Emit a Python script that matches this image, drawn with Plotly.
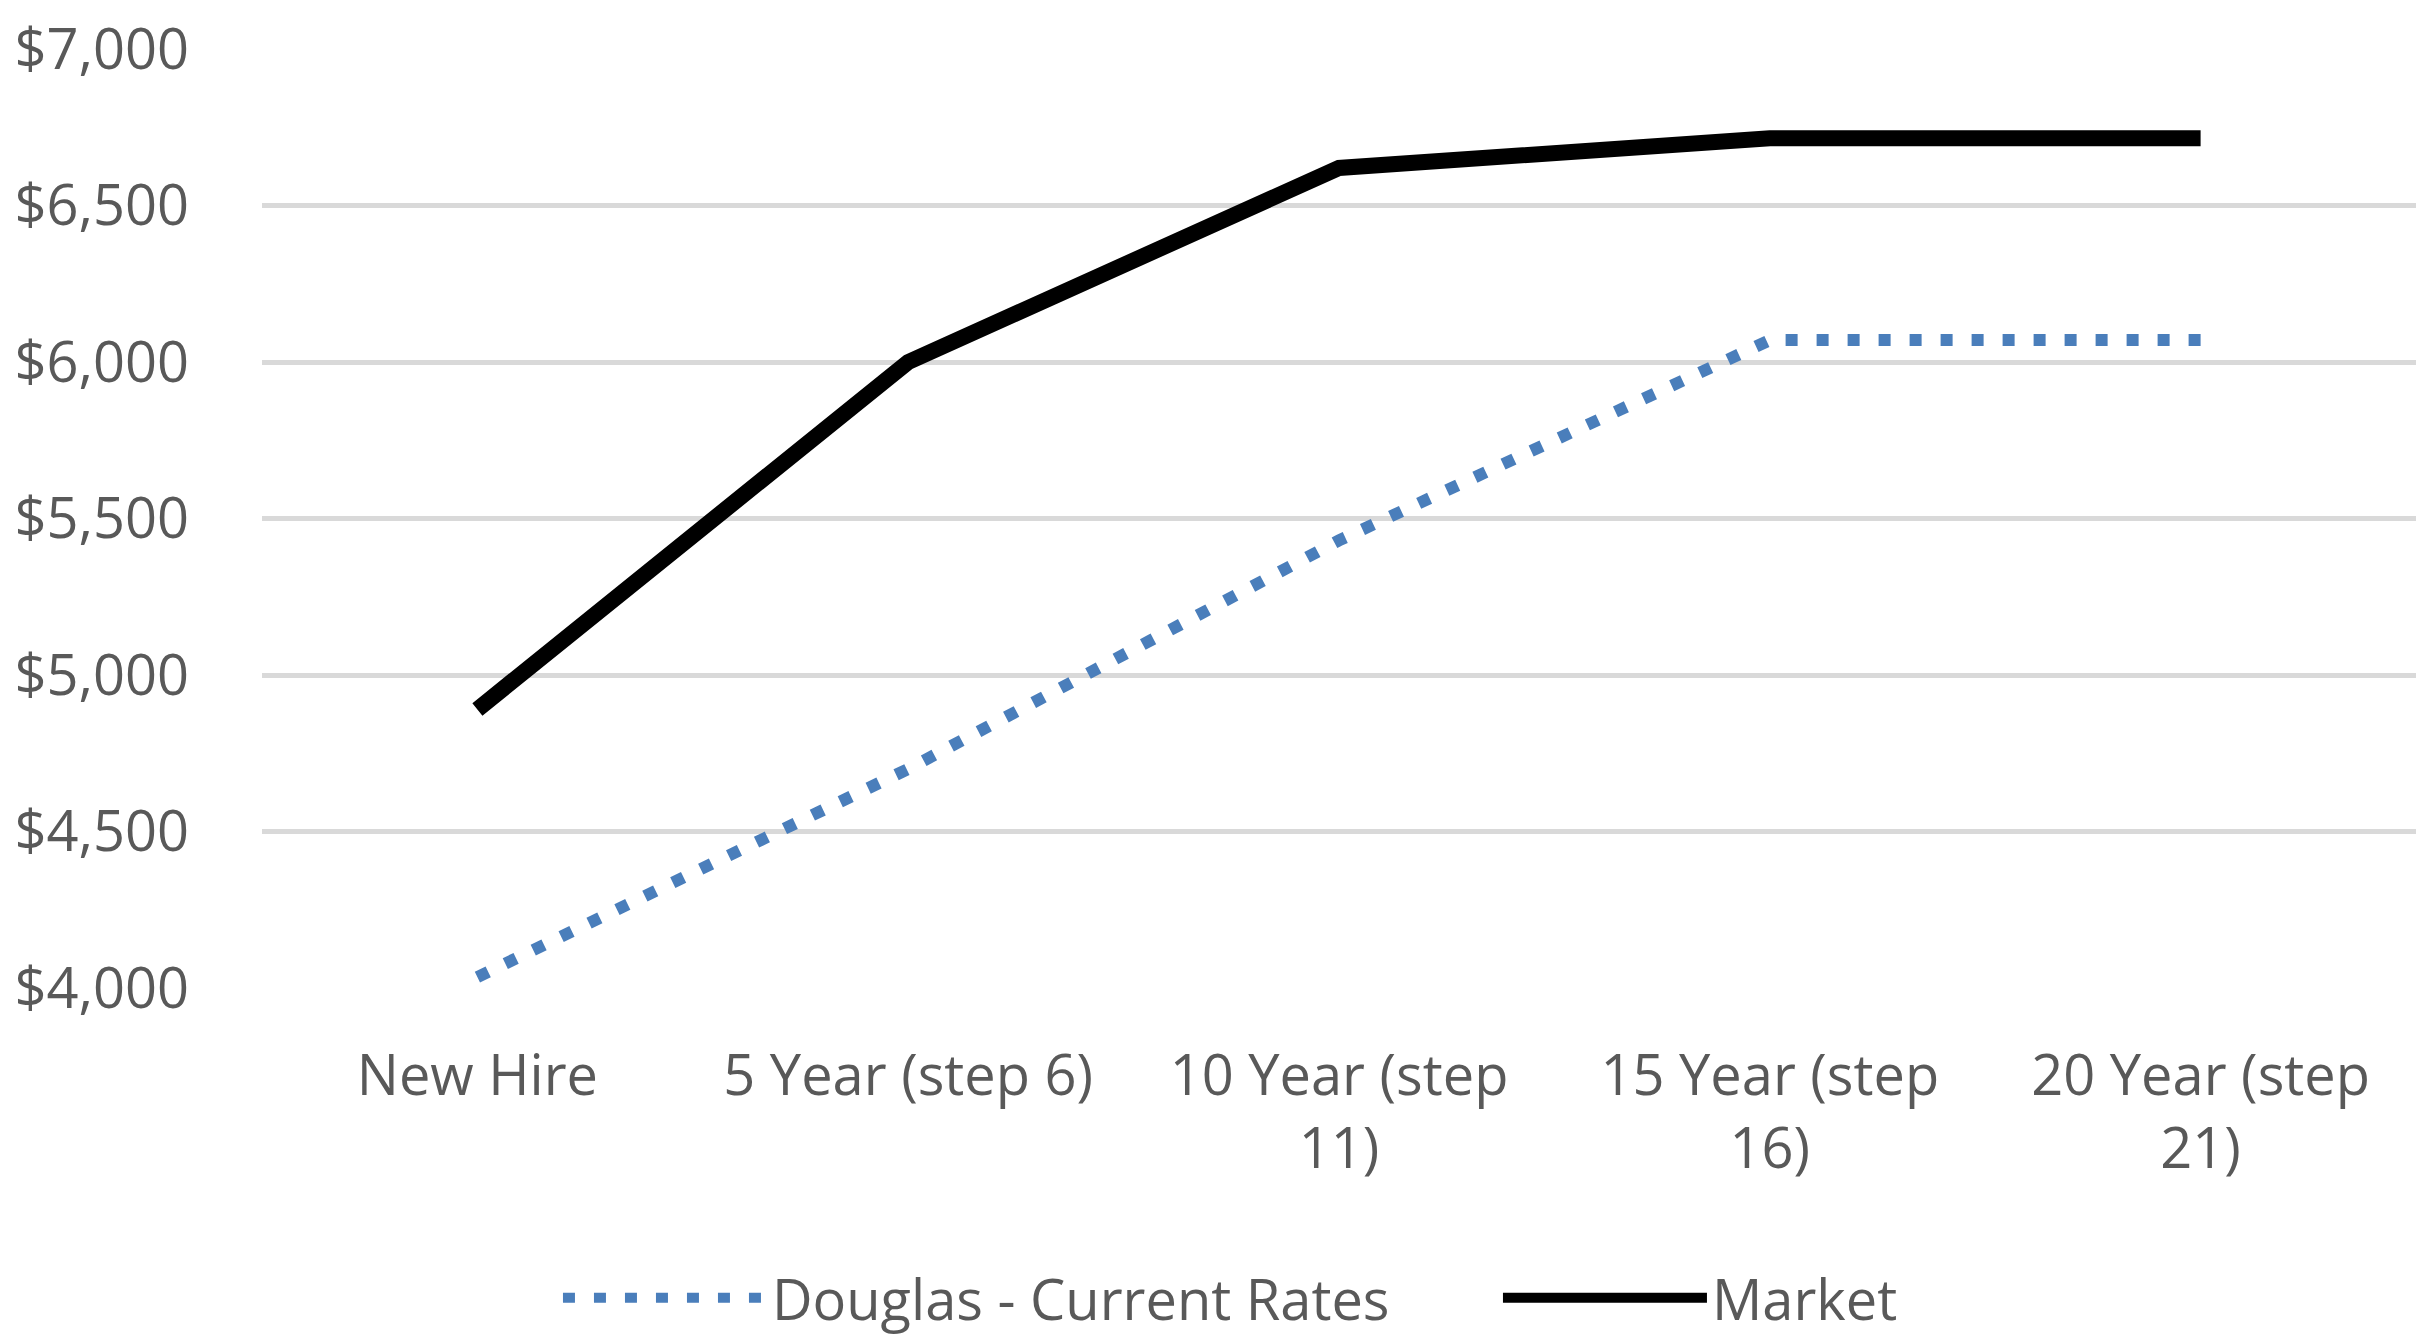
import plotly.graph_objects as go

categories = ["New Hire", "5 Year (step 6)", "10 Year (step 11)", "15 Year (step 16)", "20 Year (step 21)"]
tick_labels = ["New Hire", "5 Year (step 6)", "10 Year (step<br>11)", "15 Year (step<br>16)", "20 Year (step<br>21)"]
douglas_current = [4035, 4700, 5430, 6070, 6070]
market = [4890, 6000, 6620, 6715, 6715]
y_ticks = [4000, 4500, 5000, 5500, 6000, 6500, 7000]
y_tick_labels = ["$4,000", "$4,500", "$5,000", "$5,500", "$6,000", "$6,500", "$7,000"]

FONT = "Open Sans"
GREY = "#595959"

fig = go.Figure()
fig.add_trace(go.Scatter(
    x=categories, y=douglas_current, mode="lines", name="Douglas - Current Rates",
    line=dict(color="#4A7EBB", width=12, dash="12px,19px"),
))
fig.add_trace(go.Scatter(
    x=categories, y=market, mode="lines", name="Market",
    line=dict(color="#000000", width=16),
))

fig.update_layout(
    width=2421, height=1340,
    margin=dict(l=262, r=5, t=49, b=352, autoexpand=False),
    paper_bgcolor="white", plot_bgcolor="white",
    font=dict(family=FONT, size=56, color=GREY),
    showlegend=True,
    legend=dict(
        orientation="h", x=0.1374, xanchor="left", y=-0.33, yanchor="middle",
        font=dict(family=FONT, size=56, color=GREY),
        entrywidth=721, entrywidthmode="pixels", itemwidth=204,
        bgcolor="rgba(0,0,0,0)",
    ),
)
fig.update_xaxes(
    type="category", tickmode="array", tickvals=categories, ticktext=tick_labels,
    showgrid=False, showline=False, zeroline=False, ticks="",
    ticklabelstandoff=50,
    tickfont=dict(family=FONT, size=56, color=GREY),
    range=[-0.5, 4.5],
)
fig.update_yaxes(
    range=[4000, 7000], tickmode="array", tickvals=y_ticks, ticktext=y_tick_labels,
    showgrid=True, gridcolor="#D9D9D9", gridwidth=5,
    showline=False, zeroline=False, ticks="",
    ticklabelstandoff=72,
    tickfont=dict(family=FONT, size=56, color=GREY),
)

fig.write_html("out.html")
